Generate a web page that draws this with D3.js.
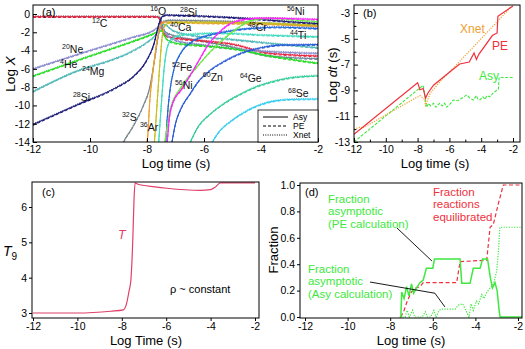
<!DOCTYPE html>
<html>
<head>
<meta charset="utf-8">
<script src="https://cdn.jsdelivr.net/npm/d3@7"></script>
<style>
body { margin: 0; background: #fff; }
svg { display: block; font-family: "Liberation Sans", Arial, sans-serif; }
</style>
</head>
<body>
<svg id="fig" width="525" height="349"></svg>
<script>
// ---------- data: panel (a), [log t, log X] per isotope
const he4  = [[-12,-6.8],[-10,-4.6],[-8.5,-3.0],[-7.8,-2.2],[-7.6,-1.9],[-7.5,-1.8],[-7.42,-2.2],[-7.3,-2.8],[-7.0,-3.2],[-6,-3.5],[-5,-3.8],[-3.7,-4.6],[-2,-5.4]];
const c12  = [[-12,-0.3],[-7.75,-0.3],[-7.6,-0.38],[-7.52,-0.9],[-7.45,-1.8],[-7.35,-2.35],[-7.1,-2.6],[-6,-2.95],[-5,-3.3],[-3.7,-4.3],[-2,-4.6]];
const o16  = [[-12,-0.3],[-7.7,-0.3],[-7.55,-0.32],[-7.5,-0.7],[-7.42,-1.6],[-7.3,-2.1],[-6,-3.0],[-5,-3.6],[-3.7,-4.6],[-2,-4.9]];
const ne20 = [[-12,-6.0],[-10,-4.0],[-8.5,-2.55],[-7.8,-1.85],[-7.6,-1.45],[-7.5,-1.35],[-7.42,-1.7],[-7.3,-2.3],[-7.0,-2.9],[-6,-3.4],[-5,-3.8],[-3.7,-4.1],[-2,-4.3]];
const mg24 = [[-12,-8.5],[-10.25,-6.0],[-9.4,-5.2],[-8.6,-4.2],[-8.0,-3.1],[-7.7,-2.3],[-7.55,-1.5],[-7.45,-1.1],[-7.35,-1.2],[-7.1,-1.8],[-6.5,-2.3],[-5,-2.8],[-3.7,-3.2],[-2,-3.7]];
const si28 = [[-12,-12.1],[-10.5,-10.0],[-9.05,-8.0],[-8.5,-6.9],[-8.0,-5.0],[-7.75,-3.2],[-7.65,-1.9],[-7.55,-0.8],[-7.45,-0.25],[-7.3,-0.12],[-7.0,-0.15],[-6,-0.25],[-5,-0.4],[-4,-0.6],[-3,-0.85],[-2,-1.05]];
const s32  = [[-8.9,-14.5],[-8.84,-14.1],[-8.49,-12.3],[-8.14,-10.1],[-7.9,-8.0],[-7.72,-4.7],[-7.6,-2.3],[-7.5,-1.1],[-7.4,-0.8],[-7.2,-0.7],[-6,-0.75],[-4.5,-0.9],[-3,-1.15],[-2,-1.3]];
const ar36 = [[-8.05,-14.5],[-7.98,-13.5],[-7.9,-9.4],[-7.8,-6.5],[-7.7,-4.0],[-7.6,-2.0],[-7.5,-1.1],[-7.4,-0.9],[-6,-1.0],[-4,-1.1],[-2,-1.35]];
const ca40 = [[-7.75,-14.5],[-7.65,-10],[-7.55,-5.5],[-7.47,-2.6],[-7.38,-1.3],[-7.2,-0.95],[-6,-0.9],[-4,-1.0],[-2,-1.2]];
const ti44 = [[-7.6,-14.5],[-7.5,-10],[-7.4,-6],[-7.3,-3.8],[-7.15,-2.8],[-6.8,-2.3],[-5.5,-2.1],[-4,-2.3],[-2,-2.5]];
const cr48 = [[-7.35,-14.5],[-7.28,-11],[-7.2,-8.5],[-7.05,-6.0],[-6.8,-4.2],[-6.4,-3.0],[-5.8,-2.3],[-5.0,-1.8],[-4.2,-1.55],[-3.5,-1.45],[-2,-1.6]];
const fe52 = [[-7.4,-14.5],[-7.3,-12.5],[-7.19,-10.5],[-6.8,-8.0],[-6.25,-5.8],[-5.8,-4.2],[-5.33,-2.8],[-4.8,-1.5],[-4.39,-0.75],[-3.7,-0.45],[-3,-0.6],[-2,-0.85]];
const ni56 = [[-7.3,-14.5],[-7.22,-11.5],[-7.1,-9.8],[-6.8,-8.3],[-6.5,-6.8],[-6.2,-5.2],[-5.9,-3.6],[-5.5,-2.1],[-5.1,-1.1],[-4.6,-0.6],[-4,-0.45],[-3,-0.5],[-2,-0.6]];
const zn60 = [[-7.15,-14.5],[-7.0,-12],[-6.8,-10.3],[-6.5,-8.8],[-6.2,-7.4],[-5.8,-6.2],[-5.3,-5.2],[-4.7,-4.3],[-4.0,-3.7],[-3.3,-3.4],[-2,-3.35]];
const ge64 = [[-6.55,-14.5],[-6.2,-12.3],[-5.8,-11.0],[-5.3,-9.8],[-4.8,-8.9],[-4.2,-8.0],[-3.7,-7.5],[-3.0,-7.0],[-2,-6.75]];
const se68 = [[-5.8,-14.5],[-5.5,-13],[-5.0,-11.6],[-4.5,-10.6],[-4.0,-9.9],[-3.5,-9.5],[-3.0,-9.35],[-2,-9.3]];

const isotopes = [
  ['o16', o16], ['c12', c12], ['ne20', ne20], ['he4', he4], ['mg24', mg24], ['s32', s32],
  ['ar36', ar36], ['ca40', ca40], ['ti44', ti44], ['si28', si28], ['ge64', ge64], ['se68', se68],
  ['cr48', cr48], ['fe52', fe52], ['zn60', zn60], ['ni56', ni56]
];
const isoColor = {
  he4: '#22dd22', c12: '#e8203c', o16: '#6f8299', ne20: '#8a8ad0', mg24: '#50b8b8', si28: '#1c1c78',
  s32: '#7a8a90', ar36: '#f0a030', ca40: '#c8c020', ti44: '#40dcc0', cr48: '#2266dd', fe52: '#66ee44',
  ni56: '#ff22ff', zn60: '#2a5ad8', ge64: '#30cc99', se68: '#33ccf0'
};
// label text: [mass, element, log t, log X]
const isoLabels = [
  ['16','O',-7.89,-0.11], ['28','Si',-6.84,-0.22], ['56','Ni',-3.09,-0.11], ['12','C',-9.93,-1.42],
  ['40','Ca',-7.19,-1.86], ['48','Cr',-4.46,-1.86], ['44','Ti',-2.98,-2.74], ['20','Ne',-10.98,-4.27],
  ['4','He',-11.05,-5.95], ['24','Mg',-10.28,-6.67], ['52','Fe',-7.12,-6.24], ['60','Zn',-6.04,-7.33],
  ['64','Ge',-4.74,-7.44], ['56','Ni',-7.02,-8.21], ['68','Se',-3.05,-9.08], ['28','Si',-10.6,-9.52],
  ['32','S',-8.88,-11.71], ['36','Ar',-8.25,-12.8]
];
const legendA = ['Asy', 'PE', 'Xnet'];

// ---------- data: panel (b), [log t, log dt]
const dtPE = [[-12,-12.4],[-8,-8.4],[-7.85,-8.95],[-7.65,-8.85],[-7.5,-9.6],[-7.35,-9.2],[-7.0,-8.6],[-6.0,-7.6],[-5.35,-6.95],[-4.75,-6.8],[-4.45,-6.1],[-4.3,-6.6],[-4.15,-6.2],[-3.3,-4.75],[-3.0,-4.55],[-2.95,-3.25],[-2.0,-2.45]];
const dtXnet = [[-12,-12.0],[-11.6,-11.85],[-11.5,-11.95],[-7.85,-9.4],[-7.55,-9.7],[-7.5,-10.3],[-7.45,-10.0],[-7.2,-9.2],[-6.5,-8.2],[-5.5,-6.95],[-2.1,-2.5]];
const dtAsy = [[-12,-13.0],[-7.65,-8.6],[-7.55,-9.3],[-7.5,-9.9],[-7.43,-10.3],[-7.3,-10.0],[-7.2,-10.2],[-7.0,-10.0],[-6.85,-10.3],[-6.7,-10.1],[-6.6,-10.0],[-6.45,-10.2],[-6.3,-10.0],[-6.17,-10.3],[-6.0,-10.1],[-5.85,-9.9],[-5.76,-9.75],[-5.5,-9.8],[-5.33,-9.7],[-5.1,-9.5],[-4.91,-9.36],[-4.7,-9.6],[-4.5,-9.75],[-4.3,-9.4],[-4.2,-9.7],[-4.08,-9.74],[-3.9,-9.5],[-3.75,-9.7],[-3.65,-9.4],[-3.45,-9.5],[-3.24,-9.2],[-2.92,-8.9],[-2.87,-8.0],[-2.0,-8.0]];

// ---------- data: panel (c), [log t, T9]
const temp = [[-12,3.0],[-10,3.0],[-8.5,3.05],[-7.93,3.09],[-7.78,3.28],[-7.68,3.6],[-7.59,3.94],[-7.5,5.16],[-7.45,6.2],[-7.4,6.68],[-7.3,6.65],[-6.5,6.57],[-5.97,6.53],[-4.47,6.47],[-4.01,6.49],[-3.8,6.56],[-3.56,6.68],[-2,6.68]];

// ---------- data: panel (d), [log t, fraction]
const fracPE = [[-7.55,0],[-7.5,0],[-7.46,0.19],[-7.35,0.14],[-7.23,0.23],[-7.12,0.16],[-7.0,0.25],[-6.9,0.18],[-6.76,0.22],[-6.6,0.26],[-6.45,0.28],[-6.3,0.37],[-6.0,0.37],[-5.92,0.44],[-4.72,0.44],[-4.64,0.255],[-4.25,0.255],[-4.1,0.37],[-3.78,0.37],[-3.66,0.44],[-3.43,0.44],[-3.3,0.3],[-3.2,0.22],[-3.08,0.26],[-2.98,0.2],[-2.88,0.04],[-2.84,0],[-1.8,0]];
const fracEq = [[-7.5,0],[-7.35,0.05],[-7.2,0.12],[-7.0,0.19],[-6.8,0.22],[-6.6,0.23],[-6.45,0.26],[-4.88,0.26],[-4.72,0.42],[-3.47,0.43],[-3.31,0.68],[-3.16,0.7],[-2.92,0.86],[-2.69,1.0],[-1.8,1.0]];
const fracAsy = [[-7.55,0],[-7.3,0],[-7.2,0.05],[-7.1,0],[-6.95,0.05],[-6.85,0],[-6.5,0],[-6.35,0.04],[-6.25,0],[-6.1,0],[-5.95,0.05],[-5.85,0],[-5.7,0.05],[-5.6,0.06],[-4.95,0.06],[-4.8,0.09],[-4.6,0.1],[-4.45,0.05],[-4.3,0],[-4.2,0.1],[-4.1,0.05],[-3.95,0.12],[-3.85,0.1],[-3.7,0.17],[-3.6,0.14],[-3.45,0.19],[-3.3,0.22],[-3.15,0.25],[-3.0,0.35],[-2.92,0.5],[-2.85,0.68],[-1.8,0.68]];

const xTicks = [-12, -10, -8, -6, -4, -2];
const xMinor = [-11, -9, -7, -5, -3];
const yTicksA = [0, -2, -4, -6, -8, -10, -12, -14];
const yTicksB = [-3, -5, -7, -9, -11, -13];
const yMinorB = [-4, -6, -8, -10, -12];
const yTicksC = [3, 4, 5, 6];
const yTicksD = [0, 0.2, 0.4, 0.6, 0.8, 1.0];

// ---------- drawing
const svg = d3.select('#fig');
const green = '#3ee83e', red = '#f0303c', orange = '#f0a030', crimson = '#e0406a';

function panel(id, box, xRange, yDom, yRange) {
  const x = d3.scaleLinear().domain([-12, -2]).range(xRange);
  const y = d3.scaleLinear().domain(yDom).range(yRange);
  const g = svg.append('g');
  g.append('clipPath').attr('id', id).append('rect')
    .attr('x', box[0]).attr('y', box[1]).attr('width', box[2] - box[0]).attr('height', box[3] - box[1]);
  const plot = g.append('g').attr('clip-path', `url(#${id})`);
  return { x, y, g, plot, box };
}

function axes(p, o) {
  const [l, t, r, b] = p.box;
  p.g.append('g').attr('transform', `translate(0,${b})`)
    .call(d3.axisBottom(p.x).tickValues(xTicks).tickSize(o.tick).tickPadding(o.padX).tickFormat(d => String(d)));
  p.g.append('g').attr('transform', `translate(${l},0)`)
    .call(d3.axisLeft(p.y).tickValues(o.yt).tickSize(o.tick).tickPadding(o.padY).tickFormat(o.fmt || (d => String(d))));
  if (o.xm) p.g.append('g').attr('transform', `translate(0,${b})`)
    .call(d3.axisBottom(p.x).tickValues(o.xm).tickSize(o.tick * 0.6).tickFormat(''));
  if (o.ym) p.g.append('g').attr('transform', `translate(${l},0)`)
    .call(d3.axisLeft(p.y).tickValues(o.ym).tickSize(o.tick * 0.6).tickFormat(''));
  p.g.selectAll('.domain').remove();
  p.g.selectAll('.tick line').attr('stroke', '#000');
  p.g.selectAll('.tick text').attr('font-size', 10.5).attr('fill', '#000')
    .attr('font-family', '"Liberation Sans", Arial, sans-serif');
  p.g.append('rect').attr('x', l).attr('y', t).attr('width', r - l).attr('height', b - t)
    .attr('fill', 'none').attr('stroke', '#000').attr('stroke-width', 1);
}

function text(g, x, y, s, size, opt = {}) {
  return g.append('text').attr('x', x).attr('y', y).attr('font-size', size)
    .attr('fill', opt.fill || '#000').attr('text-anchor', opt.anchor || 'start').text(s);
}

// ----- (a)
const pa = panel('clipA', [33, 5, 318, 142], [33, 318], [-14, 0], [142, 14]);
const lineA = d3.line().x(d => pa.x(d[0])).y(d => pa.y(d[1])).curve(d3.curveMonotoneX);
isotopes.forEach(([k, pts]) => {
  const c = isoColor[k];
  pa.plot.append('path').attr('d', lineA(pts)).attr('fill', 'none').attr('stroke', c).attr('stroke-width', 1.1);
  pa.plot.append('path').attr('d', lineA(pts)).attr('fill', 'none').attr('stroke', c).attr('stroke-width', 1)
    .attr('stroke-dasharray', '3,2').attr('transform', 'translate(0,0.7)');
  pa.plot.append('path').attr('d', lineA(pts)).attr('fill', 'none').attr('stroke', c).attr('stroke-width', 1)
    .attr('stroke-dasharray', '1,1.3').attr('transform', 'translate(0,-0.7)');
});
axes(pa, { tick: -4, padX: 4, padY: 3, yt: yTicksA });
isoLabels.forEach(([m, el, t, v]) => {
  const tx = pa.g.append('text').attr('x', pa.x(t)).attr('y', pa.y(v)).attr('font-size', 10.5).attr('fill', '#111');
  tx.append('tspan').attr('font-size', 7).attr('dy', -4).text(m);
  tx.append('tspan').attr('dy', 4).text(el);
});
text(pa.g, 42, 16, '(a)', 11);
const ylA = pa.g.append('text').attr('transform', 'translate(15,74) rotate(-90)').attr('text-anchor', 'middle').attr('font-size', 13.5);
ylA.append('tspan').text('Log ');
ylA.append('tspan').attr('font-style', 'italic').text('X');
text(pa.g, 176, 168, 'Log time (s)', 13, { anchor: 'middle' });
// legend
const lg = pa.g.append('g');
lg.append('rect').attr('x', 258).attr('y', 110).attr('width', 60).attr('height', 32)
  .attr('fill', '#fff').attr('stroke', '#000').attr('stroke-width', 0.8);
const dashes = [null, '3,2', '1,1.3'];
legendA.forEach((s, i) => {
  const yy = 117 + i * 9;
  lg.append('line').attr('x1', 263).attr('x2', 288).attr('y1', yy).attr('y2', yy)
    .attr('stroke', '#000').attr('stroke-width', 1).attr('stroke-dasharray', dashes[i]);
  text(lg, 293, yy + 3, s, 8.5);
});

// ----- (b)
const pb = panel('clipB', [354, 5, 520, 142], [354, 513], [-13, -3], [142, 13]);
const lineB = d3.line().x(d => pb.x(d[0])).y(d => pb.y(d[1]));
pb.plot.append('path').attr('d', lineB(dtAsy)).attr('fill', 'none').attr('stroke', green).attr('stroke-width', 1.1).attr('stroke-dasharray', '3,1.5');
pb.plot.append('path').attr('d', lineB(dtXnet)).attr('fill', 'none').attr('stroke', orange).attr('stroke-width', 1.2).attr('stroke-dasharray', '1.2,1.3');
pb.plot.append('path').attr('d', lineB(dtPE)).attr('fill', 'none').attr('stroke', red).attr('stroke-width', 1.2);
axes(pb, { tick: -4, padX: 4, padY: 4, yt: yTicksB, xm: xMinor, ym: yMinorB });
text(pb.g, 363, 17, '(b)', 11);
text(pb.g, pb.x(-5.33), pb.y(-4.55), 'Xnet', 12, { fill: orange });
text(pb.g, pb.x(-3.32), pb.y(-5.87), 'PE', 12, { fill: red });
text(pb.g, pb.x(-4.14), pb.y(-8.2), 'Asy', 12, { fill: green });
const ylB = pb.g.append('text').attr('transform', 'translate(337,75) rotate(-90)').attr('text-anchor', 'middle').attr('font-size', 13);
ylB.append('tspan').text('Log ');
ylB.append('tspan').attr('font-style', 'italic').text('dt');
ylB.append('tspan').text(' (s)');
text(pb.g, 435, 168, 'Log time (s)', 13, { anchor: 'middle' });

// ----- (c)
const pc = panel('clipC', [32, 182, 259, 318], [33, 255], [3, 6], [313, 207]);
const lineC = d3.line().x(d => pc.x(d[0])).y(d => pc.y(d[1])).curve(d3.curveMonotoneX);
pc.plot.append('path').attr('d', lineC(temp)).attr('fill', 'none').attr('stroke', crimson).attr('stroke-width', 1.2);
axes(pc, { tick: 3, padX: 2, padY: 2, yt: yTicksC });
text(pc.g, 42, 196, '(c)', 11);
text(pc.g, pc.x(-8.17), pc.y(5.09), 'T', 12.5, { fill: crimson }).attr('font-style', 'italic');
text(pc.g, pc.x(-5.83), pc.y(3.57), 'ρ ~ constant', 11);
const ylC = pc.g.append('text').attr('x', 3).attr('y', 256).attr('font-size', 14);
ylC.append('tspan').attr('font-style', 'italic').text('T');
ylC.append('tspan').attr('font-size', 10).attr('dy', 4).text('9');
text(pc.g, 146, 345, 'Log Time (s)', 13, { anchor: 'middle' });

// ----- (d)
const pd = panel('clipD', [300, 183, 522, 318], [305, 518], [0, 1], [317, 185]);
const lineD = d3.line().x(d => pd.x(d[0])).y(d => pd.y(d[1]));
pd.plot.append('path').attr('d', lineD(fracAsy)).attr('fill', 'none').attr('stroke', green).attr('stroke-width', 1.2).attr('stroke-dasharray', '1.2,1.4');
pd.plot.append('path').attr('d', lineD(fracEq)).attr('fill', 'none').attr('stroke', red).attr('stroke-width', 1.2).attr('stroke-dasharray', '4,2.5');
pd.plot.append('path').attr('d', lineD(fracPE)).attr('fill', 'none').attr('stroke', green).attr('stroke-width', 1.5);
axes(pd, { tick: 3, padX: 2, padY: 2, yt: yTicksD, fmt: d3.format('.1f') });
text(pd.g, 305, 196, '(d)', 11);
function block(g, x, y, lines, color) {
  const t = g.append('text').attr('x', x).attr('y', y).attr('font-size', 11.5).attr('fill', color);
  lines.forEach((s, i) => t.append('tspan').attr('x', x).attr('dy', i ? 12.4 : 0).text(s));
}
block(pd.g, pd.x(-10.92), pd.y(0.864), ['Fraction', 'asymptotic', '(PE calculation)'], green);
block(pd.g, pd.x(-5.99), pd.y(0.917), ['Fraction', 'reactions', 'equilibrated'], red);
block(pd.g, pd.x(-11.86), pd.y(0.333), ['Fraction', 'asymptotic', '(Asy calculation)'], green);
const pointer = d3.line().x(d => pd.x(d[0])).y(d => pd.y(d[1]));
pd.g.append('path').attr('d', pointer([[-7.68, 0.674], [-6.04, 0.424]])).attr('fill', 'none').attr('stroke', '#000').attr('stroke-width', 0.9);
pd.g.append('path').attr('d', pointer([[-8.95, 0.265], [-5.9, 0.18], [-5.43, 0.076]])).attr('fill', 'none').attr('stroke', '#000').attr('stroke-width', 0.9);
pd.g.append('text').attr('transform', 'translate(278,250) rotate(-90)').attr('text-anchor', 'middle').attr('font-size', 13).text('Fraction');
text(pd.g, 411, 345, 'Log time (s)', 13, { anchor: 'middle' });
</script>
</body>
</html>
